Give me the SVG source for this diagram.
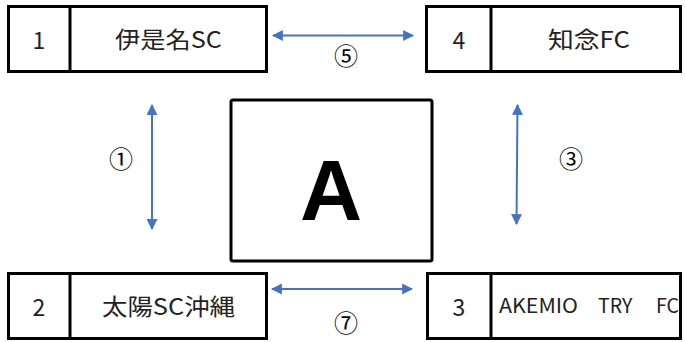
<svg xmlns="http://www.w3.org/2000/svg" width="685" height="342" viewBox="0 0 685 342">
<style>
.box{fill:#fff;stroke:#000;stroke-width:3}
.div{stroke:#000;stroke-width:3}
.t{font-family:"Noto Sans CJK JP","Noto Sans",sans-serif;font-size:23px;fill:#222;text-anchor:middle;dominant-baseline:central}
.n{font-family:"Noto Sans CJK JP","Noto Sans",sans-serif;font-size:23px;fill:#222;text-anchor:middle;dominant-baseline:central}
.s{font-family:"Noto Sans CJK JP","Noto Sans",sans-serif;font-size:19.5px;fill:#222;text-anchor:start;dominant-baseline:central}
.c{font-family:"Noto Sans CJK JP","Noto Sans",sans-serif;font-size:24px;fill:#000;text-anchor:middle;dominant-baseline:central}
.arr{stroke:#4472C4;stroke-width:2;fill:none;marker-start:url(#ah);marker-end:url(#ah)}
</style>
<defs>
<marker id="ah" viewBox="0 0 10 10" refX="9" refY="5" markerWidth="5.5" markerHeight="5.5" orient="auto-start-reverse">
<path d="M0,0 L10,5 L0,10 z" fill="#4472C4"/>
</marker>
</defs>
<rect width="685" height="342" fill="#fff"/>
<g id="center">
<rect x="231" y="100" width="201" height="161" rx="2" class="box" stroke-width="3.5"/>
<text x="331" y="220" font-family="Liberation Sans,Arial,sans-serif" font-weight="bold" font-size="86" text-anchor="middle" fill="#000">A</text>
</g>
<g id="team1">
<rect x="8.5" y="6.5" width="258" height="65" class="box"/>
<line x1="70" y1="6.5" x2="70" y2="71.5" class="div"/>
<text x="39" y="39" class="n">1</text>
<text x="168.5" y="38" class="t" textLength="107" lengthAdjust="spacingAndGlyphs">伊是名SC</text>
</g>
<g id="team4">
<rect x="426.5" y="6.5" width="254" height="65" class="box"/>
<line x1="491" y1="6.5" x2="491" y2="71.5" class="div"/>
<text x="459" y="39" class="n">4</text>
<text x="589" y="38" class="t" textLength="82" lengthAdjust="spacingAndGlyphs">知念FC</text>
</g>
<g id="team2">
<rect x="8.5" y="273.5" width="258" height="65" class="box"/>
<line x1="70" y1="273.5" x2="70" y2="338.5" class="div"/>
<text x="39" y="306" class="n">2</text>
<text x="168.5" y="305" class="t" textLength="133" lengthAdjust="spacingAndGlyphs">太陽SC沖縄</text>
</g>
<g id="team3">
<rect x="427.5" y="273.5" width="253" height="65" class="box"/>
<line x1="491" y1="273.5" x2="491" y2="338.5" class="div"/>
<text x="459" y="306" class="n">3</text>
<text x="499" y="304" class="s" textLength="79" lengthAdjust="spacingAndGlyphs">AKEMIO</text>
<text x="598" y="304" class="s">TRY</text>
<text x="656" y="304" class="s">FC</text>
</g>
<g id="connectors">
<line x1="273" y1="35.5" x2="413" y2="35.5" class="arr"/>
<line x1="272" y1="289" x2="412" y2="289" class="arr"/>
<line x1="152" y1="105" x2="152" y2="229" class="arr"/>
<line x1="517.5" y1="105" x2="516.5" y2="224" class="arr"/>
<text x="346" y="54" class="c">⑤</text>
<text x="346" y="321" class="c">⑦</text>
<text x="121" y="157" class="c">①</text>
<text x="571" y="157" class="c">③</text>
</g>
</svg>
